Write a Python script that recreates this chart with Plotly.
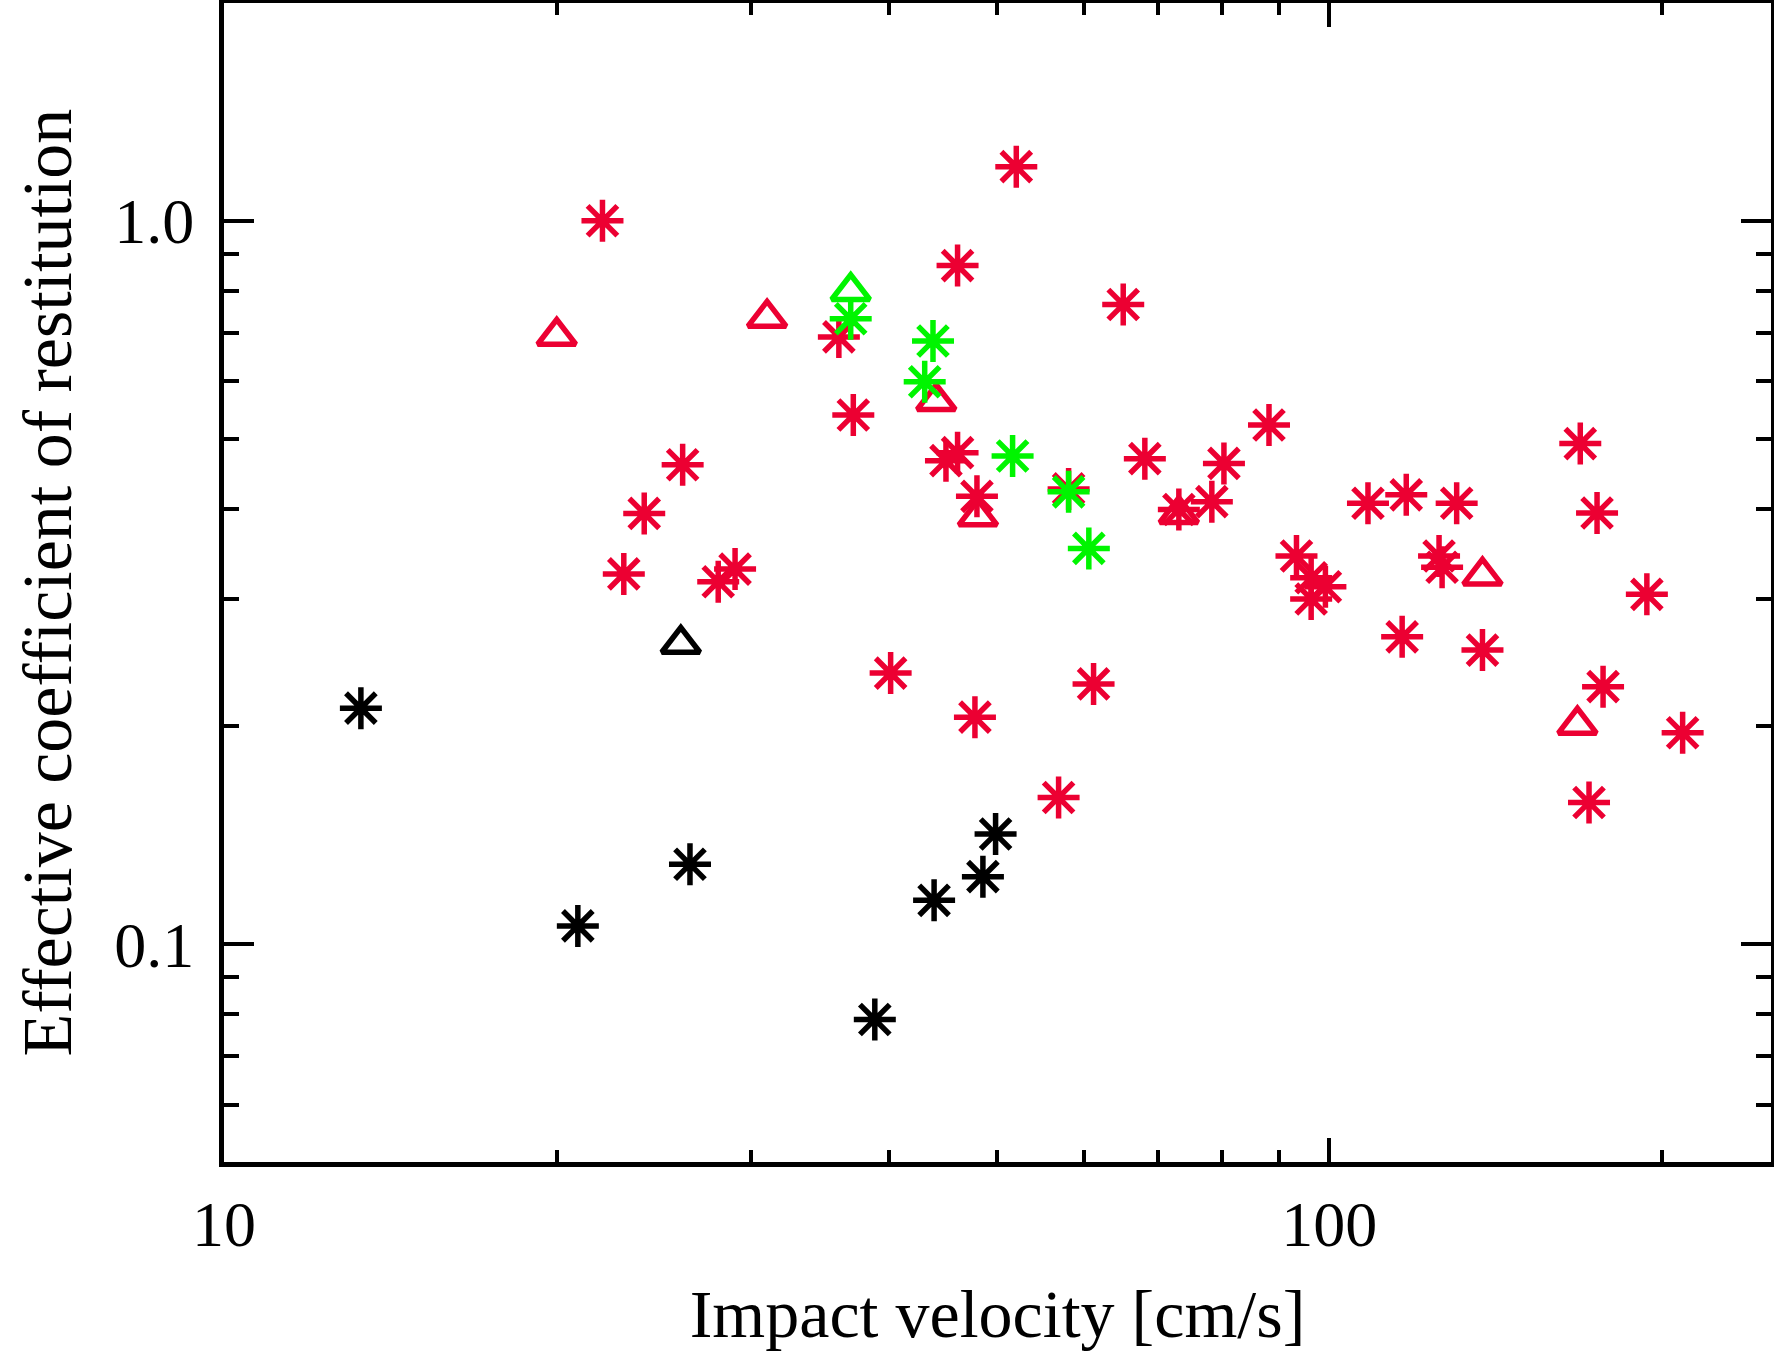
import numpy as np
import plotly.graph_objects as go

# ---- data ----
red_ast_v = [22.0, 26.0, 24.0, 23.0, 28.0, 29.0, 52.1, 46.1, 65.1, 36.0, 37.1, 45.0, 46.1, 48.0,
             58.1, 68.1, 80.3, 78.3, 88.2, 73.1, 40.1, 61.2, 47.8, 56.9, 93.4, 96.3, 99.2, 96.3,
             108.4, 117.4, 130.4, 125.7, 126.5, 116.4, 137.6, 168.7, 174.7, 193.8, 176.9, 208.8, 171.8]
red_ast_e = [1.00, 0.460, 0.394, 0.325, 0.317, 0.330, 1.188, 0.867, 0.766, 0.691, 0.539, 0.466, 0.478, 0.416,
             0.426, 0.469, 0.462, 0.409, 0.522, 0.399, 0.237, 0.229, 0.206, 0.1595, 0.344, 0.321, 0.312, 0.300,
             0.407, 0.418, 0.407, 0.344, 0.332, 0.266, 0.255, 0.492, 0.3945, 0.3045, 0.227, 0.196, 0.157]

red_tri_v = [20.0, 31.0, 44.1, 48.1, 73.1, 137.6, 167.7]
red_tri_e = [0.693, 0.734, 0.563, 0.390, 0.393, 0.323, 0.201]

green_ast_v = [36.9, 43.8, 43.05, 51.7, 58.1, 60.6]
green_ast_e = [0.732, 0.682, 0.599, 0.473, 0.422, 0.3525]
green_tri_v = [36.9]
green_tri_e = [0.799]

black_ast_v = [13.3, 20.9, 26.4, 38.8, 43.9, 48.6, 49.9]
black_ast_e = [0.212, 0.106, 0.129, 0.0787, 0.115, 0.124, 0.142]
black_tri_v = [25.9]
black_tri_e = [0.260]

x_tick_vals = [10, 100]
x_tick_text = ["10", "100"]
x_minor_vals = [20, 30, 40, 50, 60, 70, 80, 90, 200]
y_tick_vals = [0.1, 1.0]
y_tick_text = ["0.1", "1.0"]
y_minor_vals = [0.06, 0.07, 0.08, 0.09, 0.2, 0.3, 0.4, 0.5, 0.6, 0.7, 0.8, 0.9]

x_title = "Impact velocity [cm/s]"
y_title = "Effective coefficient of restitution"

RED = "rgb(236,0,50)"
GREEN = "rgb(0,245,0)"
BLACK = "black"
FONT = "Liberation Serif"

AST = dict(symbol="asterisk-open", size=35)
TRI = dict(symbol="triangle-up-open", size=33)
LW = 5.5

fig = go.Figure()

def add(x, y, color, shape):
    fig.add_trace(go.Scatter(x=x, y=y, mode="markers",
                             marker=dict(**shape, color=color, line=dict(color=color, width=LW)),
                             showlegend=False))

add(red_ast_v, red_ast_e, RED, AST)
add(red_tri_v, red_tri_e, RED, TRI)
add(green_ast_v, green_ast_e, GREEN, AST)
add(green_tri_v, green_tri_e, GREEN, TRI)
add(black_ast_v, black_ast_e, BLACK, AST)
add(black_tri_v, black_tri_e, BLACK, TRI)

axis_common = dict(type="log", showgrid=False, zeroline=False, showline=True, linecolor="black",
                   linewidth=5, mirror="ticks", ticks="inside", tickwidth=4, tickcolor="black",
                   tickmode="array", automargin=False,
                   tickfont=dict(family=FONT, size=64, color="black"))

fig.update_xaxes(**axis_common, range=[1, np.log10(251)], tickvals=x_tick_vals, ticktext=x_tick_text,
                 ticklen=24, ticklabelstandoff=2,
                 minor=dict(tickmode="array", tickvals=x_minor_vals, ticks="inside", ticklen=12,
                            tickwidth=4, tickcolor="black", showgrid=False),
                 title=dict(text=x_title, font=dict(family=FONT, size=68, color="black"),
                            standoff=32))
fig.update_yaxes(**axis_common, range=[np.log10(0.05), np.log10(2.0)], tickvals=y_tick_vals,
                 ticktext=y_tick_text, ticklen=30, ticklabelstandoff=12,
                 minor=dict(tickmode="array", tickvals=y_minor_vals, ticks="inside", ticklen=15,
                            tickwidth=4, tickcolor="black", showgrid=False))

fig.add_annotation(text=y_title, xref="paper", yref="paper", x=0, y=0.5, xanchor="center",
                   yanchor="middle", xshift=-177, textangle=-90, showarrow=False,
                   font=dict(family=FONT, size=70, color="black"))

fig.update_layout(width=1774, height=1358, margin=dict(l=224, r=3, t=3, b=196, autoexpand=False),
                  plot_bgcolor="white", paper_bgcolor="white")

fig.write_html("out.html", config={"displayModeBar": False},
               post_script="document.body.style.margin='0';")
